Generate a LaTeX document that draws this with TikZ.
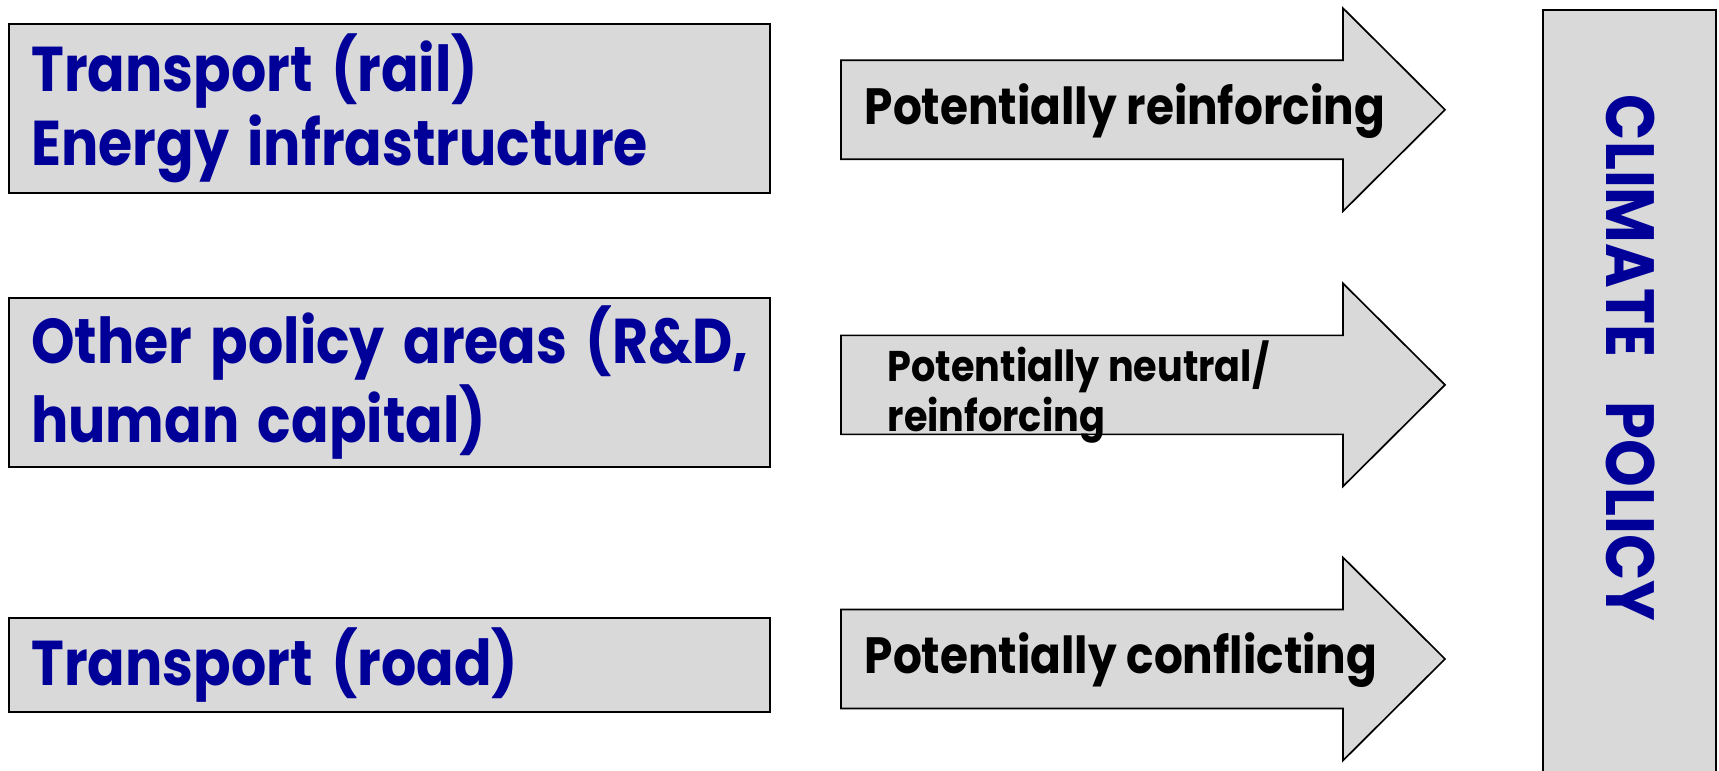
\documentclass[tikz,border=0pt]{standalone}
\usepackage{fontspec}
\usepackage{graphicx}
\setmainfont{Poppins}
\definecolor{boxgray}{RGB}{217,217,217}
\definecolor{polblue}{RGB}{0,0,153}
\newcommand{\sq}[1]{\scalebox{0.89}[1]{#1}}
\newcommand{\sqa}[1]{\scalebox{0.875}[1]{#1}}
\newcommand{\areafont}{\fontsize{18}{21}\selectfont\bfseries}
\newcommand{\effectfont}{\fontsize{14.5}{17}\selectfont\bfseries}
\newcommand{\neutralfont}{\fontsize{12.2}{14.4}\selectfont\bfseries}
\newcommand{\climfont}{\fontsize{19.4}{22}\selectfont\bfseries}

\begin{document}
\begin{tikzpicture}[x=0.01cm,y=-0.01cm,
    area/.style={draw,line width=0.65pt,fill=boxgray,text=polblue,
      minimum width=7.6cm,inner xsep=0.22cm,inner ysep=0pt,
      text width=7.16cm,align=left,font=\areafont},
    effect/.style={anchor=base west,inner sep=0pt,font=\effectfont}]
     \useasboundingbox (0,0) rectangle (1719,771);
     \clip (0,0) rectangle (1719,771);
     % policy areas
     \node[area,minimum height=1.687cm] (rail) at (389.5,108.4)
        {\sqa{Transport (rail)}\\\sqa{Energy infrastructure}};
     \node[area,minimum height=1.688cm] (other) at (389.5,382.6)
        {\sqa{Other policy areas (R\&D,}\\\sqa{human capital)}};
     \node[area,minimum height=0.934cm] (road) at (389.5,665)
        {\sqa{Transport (road)}};
     % arrows
     \foreach \y in {109.75,384.9,659} {
      \draw[line width=0.48pt,fill=boxgray]
        (841,\y-49.5) -- (1343,\y-49.5) -- (1343,\y-101.5) -- (1445,\y)
        -- (1343,\y+101.5) -- (1343,\y+49.5) -- (841,\y+49.5) -- cycle;
     }
     \node[effect] (reinf) at (864,125) {\sq{Potentially reinforcing}};
     \node[effect,font=\neutralfont,align=left,anchor=west] (neutral) at (887,392)
        {\sq{Potentially neutral/}\\\sq{reinforcing}};
     \node[effect] (confl) at (864,674) {\sq{Potentially conflicting}};
     % climate policy
     \node[draw,line width=0.6pt,fill=boxgray,minimum width=1.73cm,
        minimum height=8cm,anchor=north,inner sep=0pt] (climate) at (1629.5,9.3) {};
     \node[rotate=-90,text=polblue,font=\climfont] (climtext) at (1631,358)
        {\sq{CLIMATE\hspace{0.5cm}POLICY}};
    \end{tikzpicture}
\end{document}
